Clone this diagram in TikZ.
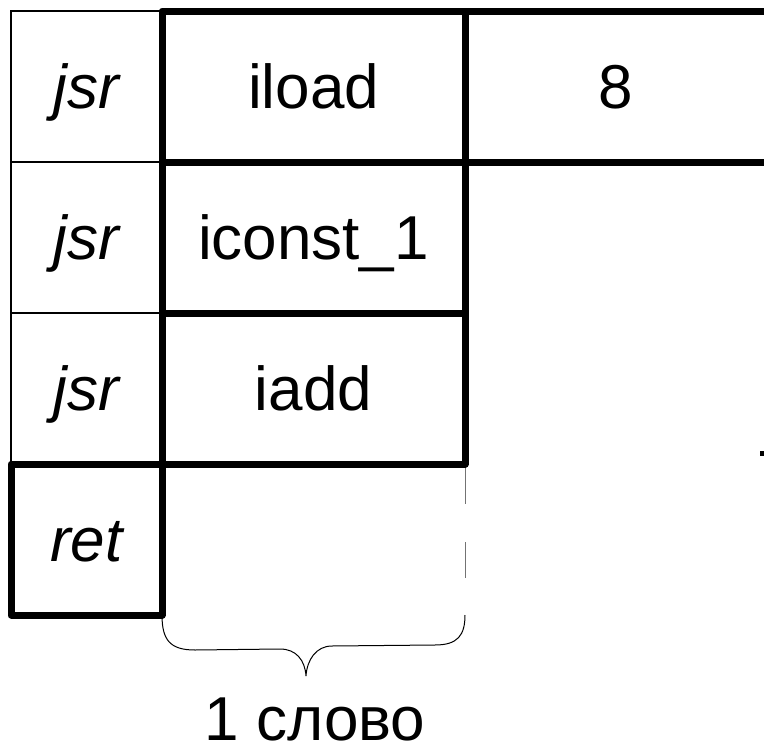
\documentclass[tikz,border=0pt]{standalone}
\usepackage{fontspec}
\setmainfont{Liberation Sans}
\begin{document}
\begin{tikzpicture}[x=1pt,y=-1pt,
  cell/.style={rectangle, inner sep=0pt, outer sep=0pt,
    minimum width=151pt, minimum height=151pt,
    text height=44pt, text depth=0pt,
    font=\fontsize{62}{70}\selectfont},
  thincell/.style={cell, draw, line width=1.1pt},
  thickcell/.style={cell, draw, line width=7pt, line join=round},
  wide/.style={minimum width=303pt},
  dashline/.style={draw=black!55, line width=1pt, dash pattern=on 36pt off 38pt},
  bracepath/.style={draw=black, line width=1pt},
  caption/.style={anchor=base, inner sep=0pt, font=\fontsize{62}{70}\selectfont}
]
\useasboundingbox (0,0) rectangle (764,750);
\clip (0,0) rectangle (764,750);

% left column: subroutine markers
\node[thincell] (j1) at (86.5,86.5)  {\itshape jsr};
\node[thincell] (j2) at (86.5,237.5) {\itshape jsr};
\node[thincell] (j3) at (86.5,388.5) {\itshape jsr};

% instruction words
\node[thickcell, wide] (iload)  at (313.5,86.5)  {iload};
\node[thickcell, wide] (iconst) at (313.5,237.5) {iconst\_1};
\node[thickcell, wide] (iadd)   at (313.5,388.5) {iadd};
\node[thickcell, minimum width=302pt] (arg) at (616,86.5) {8};
\node[thickcell] (ret) at (86.5,539.5) {\itshape ret};

% dashed right edge of the empty word
\coordinate (dashend) at (465,615);
\draw[dashline] ([yshift=-4pt]iadd.south east) -- (dashend);

% brace spanning one word
\coordinate (bl) at (162,615);
\coordinate (tip) at (306,676);
\draw[bracepath] (bl) .. controls (162,640) and (170,650) .. (195,650)
  -- (280,649) .. controls (296,649) and (305,660) .. (tip)
  .. controls (307,660) and (316,646) .. (332,646)
  -- (435,645) .. controls (458,645) and (465,635) .. (dashend);
\node[caption] (word) at (315,740) {1 слово};

% small mark at the right edge
\fill (760,451) rectangle (764,456);
\end{tikzpicture}
\end{document}
